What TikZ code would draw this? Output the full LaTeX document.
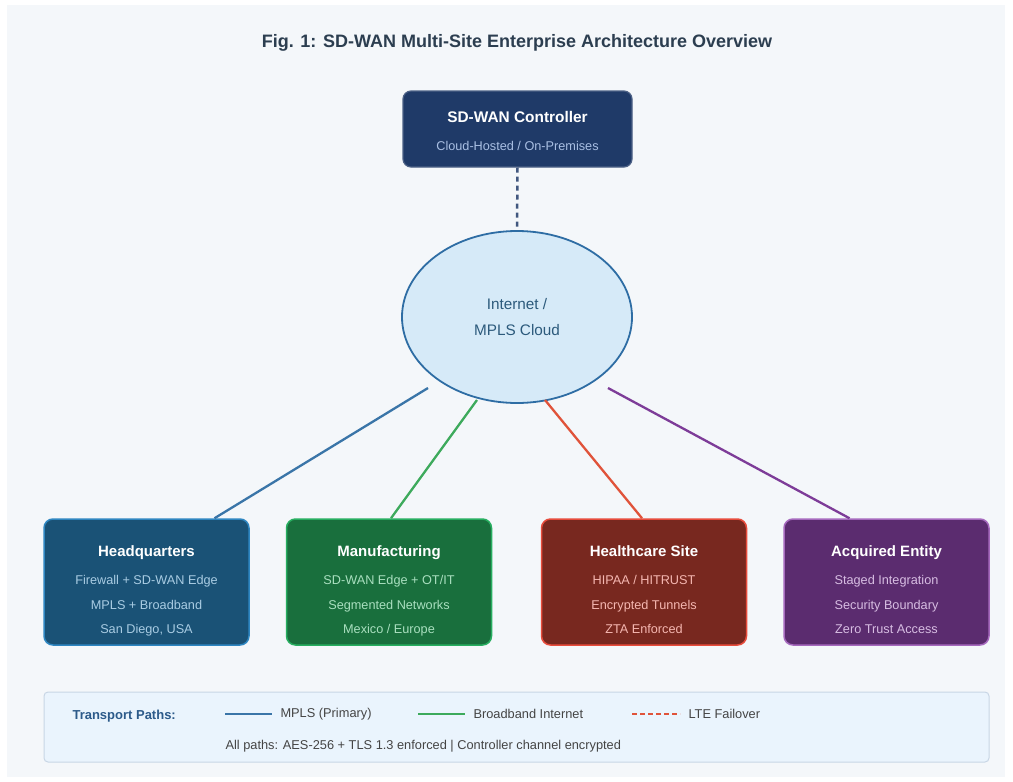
\documentclass[tikz,border=0pt]{standalone}
\usepackage{fontspec}
\setmainfont{Liberation Sans}
\usetikzlibrary{shapes.geometric}

% palette
\definecolor{pagebg}{HTML}{F4F7FA}
\definecolor{titleink}{HTML}{2C3E50}
\definecolor{ctrlfill}{HTML}{1F3A68}
\definecolor{ctrlsub}{HTML}{A9BFE3}
\definecolor{cloudfill}{HTML}{D6EAF8}
\definecolor{cloudline}{HTML}{2E6DA4}
\definecolor{cloudink}{HTML}{2C5A7C}
\definecolor{hqfill}{HTML}{1A5276}
\definecolor{hqline}{HTML}{2E86C1}
\definecolor{hqsub}{HTML}{A9CCE3}
\definecolor{mfgfill}{HTML}{196F3D}
\definecolor{mfgline}{HTML}{27AE60}
\definecolor{mfgsub}{HTML}{A9DFBF}
\definecolor{hcfill}{HTML}{78281F}
\definecolor{hcline}{HTML}{E74C3C}
\definecolor{hcsub}{HTML}{F5B7B1}
\definecolor{acqfill}{HTML}{5B2C6F}
\definecolor{acqline}{HTML}{A569BD}
\definecolor{acqsub}{HTML}{D7BDE2}
\definecolor{mplsblue}{HTML}{3A75A8}
\definecolor{bbgreen}{HTML}{3DAA5C}
\definecolor{ltered}{HTML}{E0533A}
\definecolor{acqpurple}{HTML}{7D3C98}
\definecolor{legfill}{HTML}{EAF4FD}
\definecolor{legline}{HTML}{C8D6E5}
\definecolor{legink}{HTML}{444444}
\definecolor{legtitle}{HTML}{2C5A8A}

% bold heading inside a site box
\newcommand{\sitefont}{\fontsize{15}{18}\selectfont\bfseries}

\begin{document}
\begin{tikzpicture}[
    x=1pt, y=-1pt,
    site/.style={
      rounded corners=9pt,
      minimum width=205pt,
      minimum height=126pt,
      line width=1.5pt,
      align=center,
      text=white,
      inner sep=0pt,
      text height=103pt,
      text depth=0pt,
      font=\fontsize{12.7}{24.5}\selectfont
    },
    wan/.style={line width=2.3pt},
    legtext/.style={anchor=west, text=legink, font=\fontsize{12.8}{15}\selectfont}
  ]

    \useasboundingbox (0,0) rectangle (1013,782);
    \fill[pagebg] (7,5) rectangle (1005,777);

    % Title
    \node[font=\fontsize{18}{21}\selectfont\bfseries, text=titleink] (title) at (517,43)
      {Fig. 1: SD-WAN Multi-Site Enterprise Architecture Overview};

    % Controller and transport cloud
    \node[rounded corners=8pt, fill=ctrlfill, draw=ctrlfill!80!white, line width=1.2pt,
          minimum width=229pt, minimum height=76pt, inner sep=0pt, align=center, text=white,
          text height=43pt, text depth=0pt,
          font=\fontsize{12.7}{28}\selectfont] (ctrl) at (517.5,129)
      {{\fontsize{15.4}{18}\selectfont\bfseries SD-WAN Controller}\\
       \textcolor{ctrlsub}{Cloud-Hosted / On-Premises}};

    \node[ellipse, fill=cloudfill, draw=cloudline, line width=1.8pt,
          minimum width=230pt, minimum height=172pt, inner sep=0pt, align=center,
          text=cloudink, font=\fontsize{15.3}{26}\selectfont] (cloud) at (517,317)
      {Internet /\\MPLS Cloud};

    \draw[ctrlfill!85!white, line width=2.5pt, dash pattern=on 5pt off 4pt] (ctrl.south) -- (cloud.north);

    % Sites
    \node[site, fill=hqfill, draw=hqline] (hq) at (146.5,582)
      {{\sitefont Headquarters}\\[3.5pt]
       \textcolor{hqsub}{Firewall + SD-WAN Edge}\\
       \textcolor{hqsub}{MPLS + Broadband}\\
       \textcolor{hqsub}{San Diego, USA}};

    \node[site, fill=mfgfill, draw=mfgline] (mfg) at (389,582)
      {{\sitefont Manufacturing}\\[3.5pt]
       \textcolor{mfgsub}{SD-WAN Edge + OT/IT}\\
       \textcolor{mfgsub}{Segmented Networks}\\
       \textcolor{mfgsub}{Mexico / Europe}};

    \node[site, fill=hcfill, draw=hcline] (hc) at (644,582)
      {{\sitefont Healthcare Site}\\[3.5pt]
       \textcolor{hcsub}{HIPAA / HITRUST}\\
       \textcolor{hcsub}{Encrypted Tunnels}\\
       \textcolor{hcsub}{ZTA Enforced}};

    \node[site, fill=acqfill, draw=acqline] (acq) at (886.5,582)
      {{\sitefont Acquired Entity}\\[3.5pt]
       \textcolor{acqsub}{Staged Integration}\\
       \textcolor{acqsub}{Security Boundary}\\
       \textcolor{acqsub}{Zero Trust Access}};

    % Transport links out of the cloud
    \coordinate (tapHQ)  at ([shift={(-89,71)}]cloud.center);
    \coordinate (tapMFG) at ([shift={(-40,83)}]cloud.center);
    \coordinate (tapHC)  at ([shift={(28,83)}]cloud.center);
    \coordinate (tapACQ) at ([shift={(91,71)}]cloud.center);

    \draw[wan, mplsblue]  (tapHQ)  -- ([xshift=68pt]hq.north);
    \draw[wan, bbgreen]   (tapMFG) -- ([xshift=2pt]mfg.north);
    \draw[wan, ltered]    (tapHC)  -- ([xshift=-2pt]hc.north);
    \draw[wan, acqpurple] (tapACQ) -- ([xshift=-37pt]acq.north);

    % Legend
    \node[rounded corners=4pt, fill=legfill, draw=legline, line width=1pt,
          minimum width=945pt, minimum height=70pt] (legend) at (516.5,727) {};

    \node[anchor=west, text=legtitle, font=\fontsize{13}{15}\selectfont\bfseries] (legkey) at (69,716) {Transport Paths:};
    \node[legtext] (legmpls) at (277,714) {MPLS (Primary)};
    \node[legtext] (legbb) at (470,714) {Broadband Internet};
    \node[legtext] (leglte) at (685,714) {LTE Failover};
    \node[legtext] (legnote) at (222,746) {All paths: AES-256 + TLS 1.3 enforced | Controller channel encrypted};

    \draw[wan, mplsblue] ([xshift=-52pt]legmpls.west) -- ([xshift=-5pt]legmpls.west);
    \draw[wan, bbgreen] ([xshift=-52pt]legbb.west) -- ([xshift=-5pt]legbb.west);
    \draw[wan, ltered, dash pattern=on 5pt off 3pt] ([xshift=-53pt]leglte.west) -- ([xshift=-5pt]leglte.west);

  \end{tikzpicture}
\end{document}
